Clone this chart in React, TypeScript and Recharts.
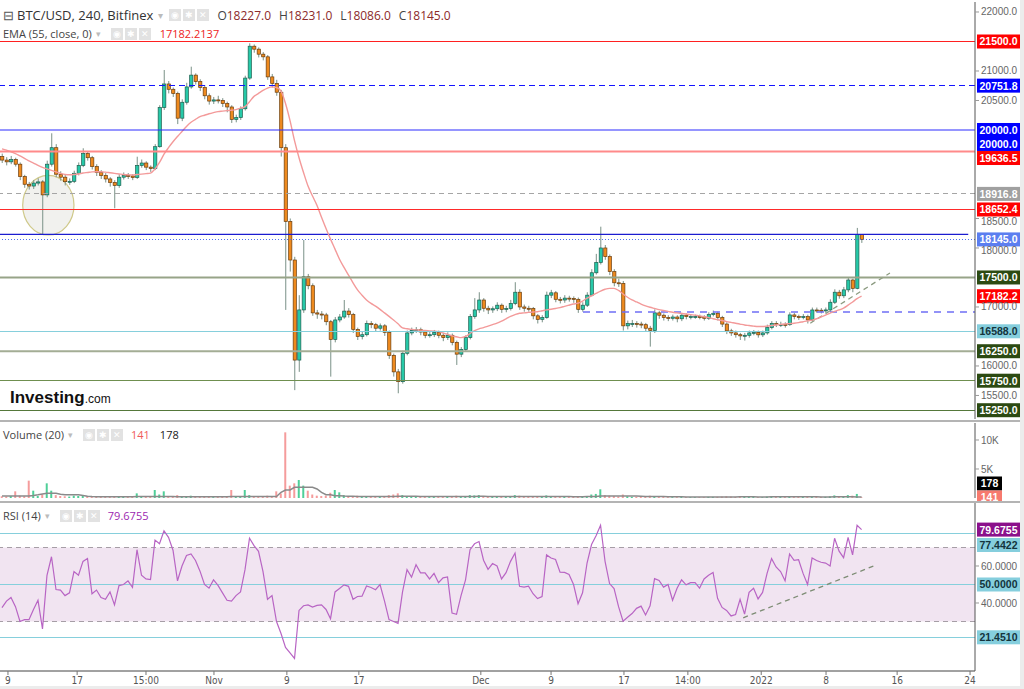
import React from "react";
import {
  ComposedChart,
  Bar,
  Line,
  XAxis,
  YAxis,
  ReferenceLine,
  ReferenceArea,
  Cell,
} from "recharts";

// BTC/USD candles, one every 12h
const opens = [
  19550, 19490, 19460, 19500, 19420, 19210, 19080, 19050, 19100, 19120,
  18900, 19420, 19700, 19250, 19200, 19124, 19130, 19266, 19400, 19600,
  19530, 19380, 19280, 19230, 19170, 19110, 19060, 19200, 19230, 19220,
  19195, 19400, 19440, 19370, 19345, 19717, 20380, 20780, 20690, 20620,
  20200, 20470, 20730, 20930, 20820, 20720, 20580, 20490, 20510, 20500,
  20450, 20390, 20180, 20210, 20360, 20880, 21420, 21370, 21285, 21240,
  20900, 20790, 20640, 19700, 18450, 17796, 16100, 16950, 17513, 17360,
  16900, 16880, 16865, 16750, 16450, 16780, 16830, 16930, 16870, 16620,
  16500, 16530, 16720, 16700, 16640, 16680, 16570, 16180, 15900, 15734,
  16215, 16560, 16600, 16615, 16575, 16520, 16530, 16570, 16520, 16480,
  16520, 16400, 16200, 16280, 16480, 16836, 16950, 17118, 16978, 16950,
  16970, 17030, 16960, 16975, 17060, 17250, 17000, 16978, 16975, 16850,
  16790, 16820, 17200, 17240, 17130, 17118, 17150, 17145, 17130, 16960,
  17030, 17200, 17580, 17755, 18000, 17853, 17600, 17410, 17400, 16680,
  16720, 16720, 16710, 16700, 16640, 16600, 16900, 16860, 16820, 16808,
  16830, 16800, 16860, 16836, 16836, 16836, 16830, 16808, 16870, 16893,
  16820, 16710, 16595, 16560, 16530, 16510, 16520, 16560, 16570, 16528,
  16560, 16650, 16720, 16705, 16705, 16700, 16865, 16836, 16820, 16836,
  16780, 16949, 16945, 16936, 16950, 17080, 17250, 17190, 17290, 17457,
  17316, 18227,
];

const highs = [
  19600, 19540, 19560, 19530, 19450, 19240, 19120, 19150, 19180, 19150,
  19480, 19944, 19760, 19300, 19240, 19180, 19310, 19450, 19690, 19640,
  19560, 19420, 19320, 19270, 19200, 19150, 19250, 19280, 19270, 19250,
  19547, 19500, 19470, 19400, 19760, 20420, 21017, 20830, 20720, 20650,
  20520, 20800, 21073, 20960, 20860, 20760, 20620, 20560, 20580, 20540,
  20480, 20420, 20260, 20400, 20920, 21469, 21450, 21400, 21320, 21270,
  20950, 20850, 20680, 19760, 18500, 17850, 17200, 18135, 17560, 17400,
  16950, 16930, 16900, 16780, 16830, 16880, 17118, 16980, 16900, 16650,
  16580, 16770, 16760, 16730, 16720, 16710, 16600, 16210, 15950, 16260,
  16600, 16650, 16660, 16650, 16600, 16580, 16610, 16600, 16560, 16570,
  16550, 16430, 16320, 16520, 16880, 17150, 17250, 17150, 17020, 17010,
  17080, 17060, 17020, 17120, 17420, 17300, 17040, 17020, 17000, 16880,
  16860, 17260, 17290, 17270, 17170, 17200, 17190, 17180, 17160, 17080,
  17250, 17640, 17900, 18361, 18050, 17890, 17640, 17480, 17440, 16770,
  16780, 16760, 16750, 16730, 16680, 16960, 16930, 16890, 16860, 16870,
  16860, 16900, 16890, 16880, 16870, 16870, 16860, 16910, 16940, 16920,
  16850, 16740, 16630, 16600, 16560, 16560, 16600, 16610, 16600, 16600,
  16700, 16760, 16760, 16750, 16740, 16910, 16900, 16870, 16880, 16870,
  16990, 16990, 16980, 16990, 17130, 17300, 17290, 17340, 17500, 17480,
  18340, 18231,
];

const lows = [
  19440, 19400, 19420, 19380, 19150, 19020, 18990, 19000, 19060, 18220,
  18860, 19380, 19200, 19140, 19060, 19070, 19100, 19230, 19370, 19480,
  19330, 19220, 19170, 19110, 19040, 18673, 19020, 19160, 19170, 19150,
  19170, 19360, 19320, 19290, 19320, 19700, 20340, 20620, 20560, 20100,
  20150, 20430, 20700, 20770, 20660, 20520, 20430, 20440, 20450, 20390,
  20300, 20120, 20130, 20170, 20330, 20850, 21310, 21230, 21180, 20850,
  20720, 20580, 19550, 16950, 17600, 15590, 15900, 16900, 17300, 16850,
  16800, 16790, 16690, 15819, 16400, 16740, 16800, 16820, 16560, 16440,
  16450, 16500, 16640, 16590, 16600, 16510, 16120, 15820, 15537, 15700,
  16180, 16520, 16560, 16520, 16470, 16480, 16490, 16470, 16420, 16440,
  16350, 16017, 16150, 16250, 16450, 16800, 16900, 16920, 16880, 16900,
  16930, 16900, 16910, 16940, 17030, 16950, 16920, 16920, 16790, 16720,
  16740, 16800, 17150, 17080, 17060, 17070, 17090, 17070, 16900, 16920,
  17000, 17180, 17550, 17720, 17800, 17540, 17350, 17340, 16600, 16620,
  16660, 16650, 16640, 16580, 16328, 16560, 16800, 16770, 16760, 16770,
  16740, 16760, 16790, 16790, 16800, 16790, 16770, 16780, 16840, 16770,
  16660, 16540, 16510, 16480, 16440, 16430, 16480, 16520, 16480, 16490,
  16530, 16620, 16660, 16660, 16650, 16680, 16790, 16780, 16790, 16720,
  16750, 16900, 16890, 16900, 16920, 17050, 17140, 17150, 17250, 17250,
  17300, 18086,
];

const closes = [
  19490, 19460, 19500, 19420, 19210, 19080, 19050, 19100, 19120, 18900,
  19420, 19700, 19250, 19200, 19124, 19130, 19266, 19400, 19600, 19530,
  19380, 19280, 19230, 19170, 19110, 19060, 19200, 19230, 19220, 19195,
  19400, 19440, 19370, 19345, 19717, 20380, 20780, 20690, 20620, 20200,
  20470, 20730, 20930, 20820, 20720, 20580, 20490, 20510, 20500, 20450,
  20390, 20180, 20210, 20360, 20880, 21420, 21370, 21285, 21240, 20900,
  20790, 20640, 19700, 18450, 17796, 16100, 16950, 17513, 17360, 16900,
  16880, 16865, 16750, 16450, 16780, 16830, 16930, 16870, 16620, 16500,
  16530, 16720, 16700, 16640, 16680, 16570, 16180, 15900, 15734, 16215,
  16560, 16600, 16615, 16575, 16520, 16530, 16570, 16520, 16480, 16520,
  16400, 16200, 16280, 16480, 16836, 16950, 17118, 16978, 16950, 16970,
  17030, 16960, 16975, 17060, 17250, 17000, 16978, 16975, 16850, 16790,
  16820, 17200, 17240, 17130, 17118, 17150, 17145, 17130, 16960, 17030,
  17200, 17580, 17755, 18000, 17853, 17600, 17410, 17400, 16680, 16720,
  16720, 16710, 16700, 16640, 16600, 16900, 16860, 16820, 16808, 16830,
  16800, 16860, 16836, 16836, 16836, 16830, 16808, 16870, 16893, 16820,
  16710, 16595, 16560, 16530, 16510, 16520, 16560, 16570, 16528, 16560,
  16650, 16720, 16705, 16705, 16700, 16865, 16836, 16820, 16836, 16780,
  16949, 16945, 16936, 16950, 17080, 17250, 17190, 17290, 17457, 17316,
  18227, 18145,
];

const ema55 = [
  19680, 19660, 19630, 19600, 19560, 19520, 19475, 19440, 19400, 19365,
  19340, 19315, 19290, 19265, 19245, 19240, 19245, 19255, 19270, 19280,
  19290, 19293, 19292, 19285, 19275, 19265, 19255, 19245, 19240, 19237,
  19245, 19252, 19260, 19270, 19340, 19450, 19590, 19700, 19800, 19890,
  19975, 20060, 20130, 20180, 20225, 20250, 20275, 20295, 20312, 20320,
  20328, 20335, 20345, 20370, 20395, 20480, 20570, 20620, 20670, 20710,
  20730, 20720, 20660, 20450, 20160, 19820, 19530, 19280, 19050, 18880,
  18720, 18520, 18330, 18150, 17980, 17810, 17670, 17540, 17410, 17290,
  17200, 17120, 17060, 17015, 16960, 16900, 16840, 16780, 16715, 16645,
  16630, 16620, 16612, 16608, 16600, 16595, 16590, 16582, 16560, 16535,
  16510, 16495, 16480, 16500, 16550, 16600, 16630, 16650, 16675, 16700,
  16725, 16760, 16800, 16840, 16870, 16893, 16900, 16908, 16915, 16920,
  16935, 16950, 16962, 16975, 16990, 17010, 17030, 17050, 17065, 17100,
  17150, 17190, 17230, 17270, 17300, 17316, 17316, 17280, 17220, 17165,
  17120, 17085, 17050, 17020, 16995, 16975, 16955, 16940, 16925, 16910,
  16900, 16890, 16880, 16870, 16862, 16850, 16835, 16820, 16800, 16785,
  16770, 16752, 16738, 16725, 16710, 16695, 16685, 16675, 16668, 16668,
  16675, 16685, 16695, 16705, 16712, 16718, 16725, 16735, 16750, 16765,
  16778, 16800, 16830, 16860, 16895, 16925, 16950, 16980, 17030, 17085,
  17140, 17182,
];

const volumes = [
  300, 250, 350, 1150, 400, 300, 2990, 1260, 350, 600,
  2530, 1260, 500, 350, 300, 250, 400, 350, 450, 300,
  300, 250, 200, 250, 200, 350, 250, 200, 200, 250,
  800, 250, 200, 200, 1380, 600, 1150, 350, 300, 500,
  300, 350, 400, 250, 200, 250, 200, 150, 200, 200,
  250, 1380, 300, 250, 1380, 500, 350, 250, 300, 400,
  350, 1150, 800, 11320, 2130, 2530, 3100, 2130, 1260, 600,
  400, 350, 400, 900, 1380, 980, 500, 300, 350, 400,
  250, 300, 200, 250, 200, 300, 500, 600, 800, 500,
  350, 250, 200, 200, 200, 150, 200, 200, 250, 200,
  300, 400, 300, 300, 500, 450, 500, 300, 250, 200,
  200, 250, 200, 250, 500, 400, 250, 200, 300, 250,
  200, 450, 300, 250, 200, 200, 200, 200, 300, 200,
  300, 600, 700, 1500, 500, 400, 350, 250, 600, 300,
  200, 200, 200, 250, 400, 350, 200, 200, 150, 150,
  150, 200, 150, 150, 150, 150, 150, 200, 200, 200,
  250, 300, 250, 200, 250, 300, 200, 200, 150, 150,
  250, 300, 200, 200, 200, 350, 250, 200, 200, 250,
  300, 200, 200, 200, 300, 450, 300, 350, 500, 400,
  700, 141,
];

const volumeMa = [
  345, 345, 345, 350, 350, 345, 360, 450, 560, 700,
  800, 800, 800, 650, 575, 575, 575, 575, 450, 300,
  240, 230, 230, 230, 230, 230, 230, 230, 230, 230,
  240, 240, 240, 240, 250, 260, 260, 250, 240, 230,
  230, 230, 230, 230, 230, 230, 230, 230, 230, 230,
  230, 250, 250, 250, 260, 260, 250, 240, 240, 240,
  240, 260, 980, 1380, 1380, 1840, 1840, 1840, 1840, 1840,
  1550, 980, 575, 575, 400, 400, 350, 320, 300, 280,
  260, 260, 250, 250, 250, 250, 260, 280, 300, 300,
  300, 300, 290, 280, 270, 260, 250, 250, 240, 240,
  240, 250, 250, 260, 270, 280, 290, 290, 280, 270,
  260, 260, 250, 250, 260, 260, 260, 250, 250, 250,
  240, 250, 250, 250, 240, 240, 240, 230, 230, 230,
  240, 250, 270, 330, 340, 350, 350, 350, 360, 360,
  350, 330, 300, 280, 270, 260, 250, 240, 230, 220,
  210, 200, 190, 180, 180, 170, 170, 170, 170, 170,
  180, 190, 190, 190, 200, 200, 200, 200, 190, 190,
  190, 200, 200, 200, 200, 200, 200, 200, 200, 200,
  200, 200, 190, 190, 190, 200, 200, 200, 210, 200,
  190, 178,
];

const rsi14 = [
  37.5, 41, 43, 38, 30, 31, 31, 36.5, 41.5, 26,
  55, 65, 47.3, 47, 44, 45.5, 57, 55, 62.5, 64,
  45, 47, 43, 42, 46, 39, 49.4, 50, 52, 48.5,
  68.8, 55, 53, 52.7, 74, 72, 79, 75.5, 68.5, 52,
  60, 65.7, 66.5, 63, 57.2, 50, 48, 52.5, 49.5, 45.5,
  41.5, 41, 44, 46, 58, 75, 71, 67.9, 57, 42,
  44, 30, 23.5, 16, 13, 10, 36, 38.5, 39, 37.8,
  38.7, 39, 36.5, 31.5, 46, 47.8, 49.8, 49, 42, 43.5,
  43.7, 49.2, 48.4, 47.2, 50, 41, 31, 30, 29, 46,
  58, 54, 60.7, 56.3, 56.3, 53, 56, 51, 53.6, 54.1,
  34.6, 33.9, 44, 52.5, 68.8, 72, 73.2, 63.1, 58.2, 61.3,
  60, 53, 56.4, 62.5, 67, 49, 48.6, 49.1, 45, 42.4,
  43.5, 66, 64.3, 63.5, 56.6, 56.5, 55.4, 50, 39.6, 45.5,
  61.6, 71.6, 76.3, 82, 62.5, 50.5, 47.8, 38, 30.2, 32.3,
  34.3, 37.1, 38.3, 33.5, 38.5, 53.2, 52.2, 48.6, 50, 41.5,
  48, 52.5, 49.8, 51, 51, 48, 53, 55, 56.5, 42.5,
  37.6, 36, 33, 33.8, 42, 34, 45.8, 48, 42.2, 45.7,
  56, 64, 59.5, 57, 52, 66.5, 63, 63.4, 56, 50,
  64.3, 63, 62, 61.6, 60, 75, 68, 64.5, 75.5, 66,
  82, 79.68,
];

// bottom axis: candle-index positions of the date labels
const dateTicks = [1.33, 16.7, 32, 47.1, 63.3, 79.3, 106.4, 122, 138.2, 152.4, 168.7, 183.1, 198.9, 215.1];
const dateLabels = ["9", "17", "15:00", "Nov", "9", "17", "Dec", "9", "17", "14:00", "2022", "8", "16", "24"];

const priceTicks = [15500, 16000, 17000, 18000, 18500, 20500, 21000, 22000];
const volumeTicks = [5000, 10000];
const rsiTicks = [40, 60];

// horizontal levels on the price pane, with their axis badges
const levelValues = [21500, 20751.8, 20000, 19636.5, 18916.8, 18652.4, 18145, 17500, 16588, 16250, 15750, 15250];
const levelBadges = ["21500.0", "20751.8", "20000.0", "", "18916.8", "18652.4", "18145.0", "17500.0", "16588.0", "16250.0", "15750.0", "15250.0"];
const levelStyles = [
  { stroke: "#ff2020", width: 1, dash: undefined, badge: "#ff0000", crisp: true },
  { stroke: "#1414ff", width: 1, dash: "6 4", badge: "#0000ff", crisp: true },
  { stroke: "#2c2cff", width: 1.2, dash: undefined, badge: "#0000ff", crisp: false },
  { stroke: "#ff8a8a", width: 2, dash: undefined, badge: "#ff0000", crisp: false },
  { stroke: "#a5a5a5", width: 1, dash: "5 4", badge: "#a0a0a0", crisp: true },
  { stroke: "#ff2a2a", width: 1, dash: undefined, badge: "#ff0000", crisp: true },
  { stroke: "#4f70f0", width: 1, dash: "1.5 1.5", badge: "#5b7ef0", crisp: true },
  { stroke: "#97a488", width: 2, dash: undefined, badge: "#2c4a12", crisp: false },
  { stroke: "#86cfdc", width: 1, dash: undefined, badge: "#85cedd", crisp: true },
  { stroke: "#a3ad95", width: 2, dash: undefined, badge: "#2c4a12", crisp: false },
  { stroke: "#6f8f4f", width: 1, dash: undefined, badge: "#2c4a12", crisp: true },
  { stroke: "#55783a", width: 1, dash: undefined, badge: "#2c4a12", crisp: true },
];

// badges pushed off their level so they don't collide, plus the EMA value
const extraBadgeAt = [19763, 19525, 17182.2];
const extraBadgeText = ["20000.0", "19636.5", "17182.2"];
const extraBadgeBg = ["#0000ff", "#ff0000", "#ff0000"];

const rows = closes.map((c, i) => ({
  i,
  open: opens[i],
  high: highs[i],
  low: lows[i],
  close: c,
  ema: ema55[i],
  vol: volumes[i],
  volMa: volumeMa[i],
  rsi: rsi14[i],
}));

const W = 1024;
const AXIS_W = 49;
const X_DOMAIN: [number, number] = [-0.44, 216.2];
const FONT = "'Liberation Sans', Arial, sans-serif";
const UI = "'Open Sans', 'Noto Sans', sans-serif";

const UP = "#26c9a8";
const UP_EDGE = "#1d5e4e";
const DOWN = "#ee8a1e";
const DOWN_EDGE = "#6b3d0c";
const WICK = "#7a9187";

const Candle = (props: any) => {
  const { x, y, width, height, payload } = props;
  if (!payload || height == null || isNaN(y)) return null;
  const { open, close, high, low } = payload;
  const top = Math.min(y, y + height);
  const h = Math.abs(height);
  const py = (v: number) => (high === low ? top : top + ((high - v) / (high - low)) * h);
  const cx = x + width / 2;
  const yo = py(open);
  const yc = py(close);
  const up = close >= open;
  const bt = Math.min(yo, yc);
  const bh = Math.max(Math.abs(yo - yc), 1);
  return (
    <g>
      <line x1={cx} x2={cx} y1={top} y2={top + h} stroke={WICK} strokeWidth={1} />
      <rect
        x={cx - 1.6}
        y={bt}
        width={3.2}
        height={bh}
        fill={up ? UP : DOWN}
        stroke={up ? UP_EDGE : DOWN_EDGE}
        strokeWidth={0.7}
      />
    </g>
  );
};

const badge = (text: string, bg: string, fg = "#fff", w = 43) => (p: any) => {
  const vb = p.viewBox;
  if (!vb) return null;
  const x = vb.x + vb.width + 2;
  return (
    <g>
      <rect x={x} y={vb.y - 7} width={w} height={14} fill={bg} />
      <text
        x={x + w / 2}
        y={vb.y + 4}
        textAnchor="middle"
        fontSize={10.5}
        fontWeight={700}
        fill={fg}
        fontFamily={FONT}
      >
        {text}
      </text>
    </g>
  );
};

// price tick that slides a little below badges sitting just above it
const PriceTick = (p: any) => {
  const v = p.payload.value;
  const shift = v === 18500 || v === 18000 ? 3 : 0;
  return (
    <text x={p.x} y={p.y + 3.5 + shift} fontSize={10} fill="#666" fontFamily={FONT}>
      {v.toFixed(1)}
    </text>
  );
};

const Ellipse = (p: any) => (
  <ellipse
    cx={p.x + p.width / 2}
    cy={p.y + p.height / 2}
    rx={p.width / 2}
    ry={p.height / 2}
    fill="rgba(215,215,205,0.35)"
    stroke="#cfc98a"
    strokeWidth={1.2}
  />
);

const Icons = () => (
  <span style={{ display: "inline-flex", gap: 2, verticalAlign: "middle" }}>
    {["◉", "✱", "✕"].map((s) => (
      <span
        key={s}
        style={{
          width: 12,
          height: 12,
          background: "#e2e2e2",
          color: "#fff",
          fontSize: 9,
          lineHeight: "12px",
          textAlign: "center",
          display: "inline-block",
        }}
      >
        {s}
      </span>
    ))}
  </span>
);

const axisTick = { fontSize: 10, fill: "#666", fontFamily: FONT };

export default function App() {
  return (
    <div style={{ position: "relative", width: W, height: 689, background: "#fff", overflow: "hidden" }}>
      <style>{"body{margin:0}"}</style>

      {/* price pane */}
      <div style={{ position: "absolute", left: 0, top: 0 }}>
        <ComposedChart width={W} height={421} data={rows} margin={{ top: 2, right: 0, bottom: 2, left: 0 }}>
          <XAxis dataKey="i" type="number" domain={X_DOMAIN} allowDataOverflow hide />
          <YAxis
            orientation="right"
            width={AXIS_W}
            domain={[15101, 22169.5]}
            allowDataOverflow
            ticks={priceTicks}
            interval={0}
            tick={<PriceTick />}
            tickSize={4}
            tickLine={{ stroke: "#999" }}
            axisLine={{ stroke: "#555" }}
          />
          <ReferenceArea x1={4.6} x2={16} y1={18220} y2={19230} shape={Ellipse} />
          <ReferenceLine
            segment={[{ x: -0.44, y: 18230 }, { x: 214.7, y: 18230 }]}
            stroke="#1c1cd0"
            strokeWidth={1.2}
          />
          <ReferenceLine
            segment={[{ x: 129.1, y: 16915 }, { x: 216.2, y: 16915 }]}
            stroke="#6f6ff5"
            strokeWidth={1.5}
            strokeDasharray="7 6"
          />
          <ReferenceLine
            segment={[{ x: 179.6, y: 16725 }, { x: 197.3, y: 17575 }]}
            stroke="#8d9c82"
            strokeWidth={1.3}
            strokeDasharray="5 4"
          />
          <Bar dataKey={(d: any) => [d.low, d.high]} barSize={3} shape={Candle} isAnimationActive={false} />
          <Line
            dataKey="ema"
            type="monotone"
            stroke="#f39a9a"
            strokeWidth={1.4}
            dot={false}
            activeDot={false}
            isAnimationActive={false}
          />
          {levelValues.map((v, k) => (
            <ReferenceLine
              key={"lv" + k}
              y={v}
              stroke={levelStyles[k].stroke}
              strokeWidth={levelStyles[k].width}
              strokeDasharray={levelStyles[k].dash}
              shapeRendering={levelStyles[k].crisp ? "crispEdges" : undefined}
              label={
                levelBadges[k]
                  ? badge(levelBadges[k], levelStyles[k].badge, levelStyles[k].badge === "#85cedd" ? "#14343c" : "#fff")
                  : undefined
              }
            />
          ))}
          {extraBadgeAt.map((v, k) => (
            <ReferenceLine
              key={"xb" + k}
              y={v}
              strokeOpacity={0}
              label={badge(extraBadgeText[k], extraBadgeBg[k])}
            />
          ))}
        </ComposedChart>
      </div>

      {/* volume pane */}
      <div style={{ position: "absolute", left: 0, top: 421 }}>
        <ComposedChart width={W} height={81} data={rows} margin={{ top: 2, right: 0, bottom: 4, left: 0 }}>
          <XAxis dataKey="i" type="number" domain={X_DOMAIN} allowDataOverflow hide />
          <YAxis
            orientation="right"
            width={AXIS_W}
            domain={[0, 12930]}
            allowDataOverflow
            ticks={volumeTicks}
            interval={0}
            tickFormatter={(v: number) => v / 1000 + "K"}
            tick={axisTick}
            tickSize={4}
            tickLine={{ stroke: "#999" }}
            axisLine={{ stroke: "#555" }}
          />
          <Bar dataKey="vol" barSize={2} isAnimationActive={false}>
            {rows.map((r, k) => (
              <Cell key={k} fill={r.close >= r.open ? "#4fcf98" : "#f59c9c"} />
            ))}
          </Bar>
          <Line
            dataKey="volMa"
            stroke="#8a8a8a"
            strokeWidth={1.5}
            dot={false}
            activeDot={false}
            isAnimationActive={false}
          />
          <ReferenceLine y={2500} strokeOpacity={0} label={badge("178", "#000", "#fff", 25)} />
          <ReferenceLine y={90} strokeOpacity={0} label={badge("141", "#f77a6e", "#fff", 25)} />
        </ComposedChart>
      </div>

      {/* RSI pane */}
      <div style={{ position: "absolute", left: 0, top: 502 }}>
        <ComposedChart width={W} height={187} data={rows} margin={{ top: 1, right: 0, bottom: 0, left: 0 }}>
          <XAxis
            dataKey="i"
            type="number"
            domain={X_DOMAIN}
            allowDataOverflow
            ticks={dateTicks}
            interval={0}
            tickFormatter={(v: number) => dateLabels[dateTicks.indexOf(v)] ?? ""}
            tick={{ fontSize: 10, fill: "#555", fontFamily: "'DejaVu Sans Condensed', " + FONT }}
            tickSize={4}
            tickLine={{ stroke: "#777" }}
            axisLine={{ stroke: "#444" }}
            height={18}
          />
          <YAxis
            orientation="right"
            width={AXIS_W}
            domain={[3.24, 94.05]}
            allowDataOverflow
            ticks={rsiTicks}
            interval={0}
            tickFormatter={(v: number) => v.toFixed(4)}
            tick={axisTick}
            tickSize={4}
            tickLine={{ stroke: "#999" }}
            axisLine={{ stroke: "#555" }}
          />
          <ReferenceArea y1={30} y2={70} fill="#f1e4f1" fillOpacity={1} stroke="none" />
          <ReferenceLine y={70} stroke="#a69ea6" strokeDasharray="5 4" shapeRendering="crispEdges" />
          <ReferenceLine y={30} stroke="#a69ea6" strokeDasharray="5 4" shapeRendering="crispEdges" />
          <ReferenceLine y={77.4422} stroke="#86cfdc" shapeRendering="crispEdges" />
          <ReferenceLine
            y={50}
            stroke="#86cfdc"
            shapeRendering="crispEdges"
            label={badge("50.0000", "#85cedd", "#14343c")}
          />
          <ReferenceLine
            y={21.451}
            stroke="#86cfdc"
            shapeRendering="crispEdges"
            label={badge("21.4510", "#85cedd", "#14343c")}
          />
          <ReferenceLine
            segment={[{ x: 164.7, y: 32 }, { x: 194.4, y: 60.7 }]}
            stroke="#7d8c74"
            strokeWidth={1.3}
            strokeDasharray="5 4"
          />
          <Line
            dataKey="rsi"
            stroke="#b865c4"
            strokeWidth={1.2}
            dot={false}
            activeDot={false}
            isAnimationActive={false}
          />
          <ReferenceLine y={79.6755} strokeOpacity={0} label={badge("79.6755", "#8b108b")} />
          <ReferenceLine y={71.35} strokeOpacity={0} label={badge("77.4422", "#85cedd", "#14343c")} />
        </ComposedChart>
      </div>

      {/* pane separators and frame */}
      <div style={{ position: "absolute", left: 0, top: 420, width: 1020, height: 2, background: "#b4b4b4" }} />
      <div style={{ position: "absolute", left: 0, top: 501, width: 1020, height: 2, background: "#b4b4b4" }} />
      <div style={{ position: "absolute", left: 1020, top: 0, width: 4, height: 689, background: "#ececec" }} />
      <div style={{ position: "absolute", left: 0, top: 686, width: 1024, height: 3, background: "#ececec" }} />

      {/* legends */}
      <div style={{ position: "absolute", left: 3, top: 6, fontFamily: UI, fontSize: 13, color: "#333", whiteSpace: "nowrap", display: "flex", alignItems: "center" }}>
        <span style={{ color: "#555", marginRight: 3 }}>⊟</span>
        <span>BTC/USD, 240, Bitfinex</span>
        <span style={{ color: "#bbb", fontSize: 10, margin: "0 6px 0 5px" }}>▾</span>
        <Icons />
        <span style={{ fontSize: 12, marginLeft: 8 }}>
          {[
            ["O", "18227.0"],
            ["H", "18231.0"],
            ["L", "18086.0"],
            ["C", "18145.0"],
          ].map(([k, v]) => (
            <span key={k} style={{ marginRight: 8 }}>
              <span style={{ color: "#444" }}>{k}</span>
              <span style={{ color: "#8c2a2a" }}>{v}</span>
            </span>
          ))}
        </span>
      </div>
      <div style={{ position: "absolute", left: 3, top: 26, fontFamily: UI, fontSize: 11, color: "#444", whiteSpace: "nowrap", display: "flex", alignItems: "center" }}>
        <span>EMA (55, close, 0)</span>
        <span style={{ color: "#bbb", fontSize: 9, margin: "0 10px 0 4px" }}>▾</span>
        <Icons />
        <span style={{ color: "#ee2222", marginLeft: 9 }}>17182.2137</span>
      </div>
      <div style={{ position: "absolute", left: 3, top: 427, fontFamily: UI, fontSize: 11, color: "#444", whiteSpace: "nowrap", display: "flex", alignItems: "center" }}>
        <span>Volume (20)</span>
        <span style={{ color: "#bbb", fontSize: 9, margin: "0 10px 0 4px" }}>▾</span>
        <Icons />
        <span style={{ color: "#f05a5a", marginLeft: 8 }}>141</span>
        <span style={{ color: "#222", marginLeft: 10 }}>178</span>
      </div>
      <div style={{ position: "absolute", left: 3, top: 508, fontFamily: UI, fontSize: 11, color: "#444", whiteSpace: "nowrap", display: "flex", alignItems: "center" }}>
        <span>RSI (14)</span>
        <span style={{ color: "#bbb", fontSize: 9, margin: "0 10px 0 4px" }}>▾</span>
        <Icons />
        <span style={{ color: "#9c27b0", marginLeft: 8 }}>79.6755</span>
      </div>

      {/* watermark */}
      <div style={{ position: "absolute", left: 10, top: 388, fontFamily: FONT, color: "#111", whiteSpace: "nowrap" }}>
        <span style={{ fontSize: 17, fontWeight: 700 }}>Investing</span>
        <span style={{ fontSize: 12 }}>.com</span>
      </div>
    </div>
  );
}
